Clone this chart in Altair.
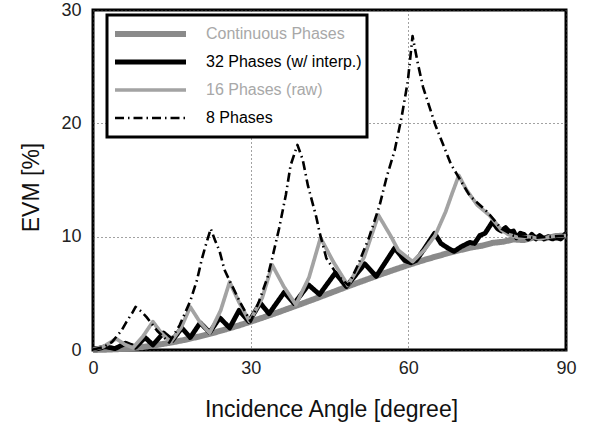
import altair as alt
import pandas as pd

# ---- data ----
series_names = ["Continuous Phases", "32 Phases (w/ interp.)", "16 Phases (raw)", "8 Phases"]

cont_x = [0, 2.5, 5, 7.5, 10, 12.5, 15, 17.5, 20, 22.5, 25, 27.5, 30, 32.5, 35, 37.5, 40, 42.5,
          45, 47.5, 50, 52.5, 55, 57.5, 60, 62.5, 65, 67.5, 70, 72, 74, 76, 78, 80, 82, 84, 86, 88, 90]
cont_y = [0, 0.03, 0.08, 0.17, 0.3, 0.47, 0.67, 0.9, 1.17, 1.46, 1.79, 2.13, 2.5, 2.89, 3.29, 3.71,
          4.13, 4.56, 5.0, 5.44, 5.87, 6.29, 6.71, 7.11, 7.5, 7.87, 8.21, 8.54, 8.83, 9.05, 9.2, 9.45,
          9.55, 9.75, 9.7, 9.95, 9.85, 10.05, 10.1]

p32_x = [0, 1, 2.3, 4.2, 6.2, 8.1, 9.9, 11.4, 13.4, 15.1, 16.9, 18.5, 20.4, 22.2, 24.1, 26.0, 27.8,
         29.7, 31.8, 33.5, 36.4, 38.3, 41.0, 43.1, 46.1, 48.2, 51.7, 53.9, 57.4, 59.3, 60.5, 61.5,
         63, 65.0, 66.2, 67.5, 68.7, 70, 71.7, 72.6, 73.6, 74.6, 76.0, 77.0, 77.7, 78.5, 79.3, 80.0,
         80.6, 81.3, 82.0, 82.8, 83.5, 84.3, 85.0, 85.8, 86.6, 87.4, 88.2, 89.0, 89.6, 90]
p32_y = [0.1, 0.12, 0.3, 0.12, 0.6, 0.25, 1.1, 0.45, 1.5, 0.85, 1.95, 1.1, 2.4, 1.55, 2.85, 1.95, 3.5,
         2.5, 4.15, 3.2, 5.1, 4.1, 5.75, 4.9, 6.8, 5.6, 7.6, 6.5, 9.0, 7.9, 7.7, 7.9,
         8.9, 10.3, 9.4, 9.0, 8.7, 9.1, 9.5, 9.4, 10.1, 10.3, 11.3, 10.7, 10.5, 10.8, 10.4, 10.5,
         9.9, 10.3, 10.2, 9.8, 10.2, 9.8, 10.1, 9.8, 10.0, 9.8, 9.9, 9.8, 10.1, 10.3]

p16_x = [0, 2, 4.4, 6, 7.6, 9.5, 11.4, 13, 14.8, 16.8, 18.5, 20.3, 22.2, 24.3, 26.0, 27.8, 29.8,
         32.2, 34.1, 36.3, 38.6, 41.1, 43.3, 45.7, 48.5, 51.6, 54.3, 56.6, 58.1, 60.8, 63, 65.1,
         67.1, 68.4, 69.6, 71.1, 73.1, 75.4, 77.7, 79, 81, 83, 85, 87, 90]
p16_y = [0.05, 0.3, 1.0, 0.5, 0.2, 1.2, 2.5, 1.5, 0.7, 2.0, 3.8, 2.5, 1.5, 3.5, 6.0, 4.2, 2.5,
         4.6, 7.5, 5.6, 4.0, 6.4, 9.9, 7.8, 5.7, 8.2, 11.9, 10.1, 8.8, 7.8, 8.8, 10.1,
         12.2, 13.9, 15.4, 14.1, 12.8, 11.9, 10.6, 10.2, 9.9, 10.0, 9.8, 10.0, 10.1]

p8_x = [0, 2, 3.6, 5.4, 6.4, 7.5, 8.1, 9.2, 10.2, 12.2, 14.5, 16.5, 18.5, 19.8, 20.7, 21.3, 22.4,
        23.2, 24.1, 25.0, 26.0, 28.0, 30.0, 31.6, 33.2, 34.1, 35.4, 36.7, 37.6, 38.9, 39.9, 40.9,
        42.5, 43.1, 44.4, 46.5, 48.6, 50.5, 52.5, 54.5, 55.9, 57.4, 58.7, 59.9, 60.8, 61.8, 62.8,
        65.1, 68.1, 69.5, 71.7, 75.0, 77.7, 80, 84, 90]
p8_y = [0.05, 0.25, 0.7, 1.7, 2.5, 3.3, 3.8, 3.4, 2.9, 1.7, 0.65, 2.2, 4.3, 6.2, 8.0, 9.0, 10.7,
        9.7, 8.7, 7.1, 6.1, 4.2, 2.5, 4.3, 6.4, 8.1, 10.7, 13.7, 16.3, 18.1, 16.8, 14.5,
        11.7, 10.4, 8.1, 6.6, 5.7, 7.6, 9.9, 12.7, 15.3, 17.6, 20.5, 23.7, 27.7, 25.3, 23.2,
        19.9, 16.4, 15.3, 13.6, 12.2, 10.7, 10.1, 9.9, 10.1]

x_ticks = [0, 30, 60, 90]
y_ticks = [0, 10, 20, 30]

# ---- styling ----
colors = ["#8a8a8a", "#000000", "#a3a3a3", "#000000"]
widths = [6, 2.6, 2.4, 1.8]
dashes = [[1, 0], [1, 0], [1, 0], [9, 4, 1.5, 4]]

frames = []
for name, xs, ys in [(series_names[0], cont_x, cont_y), (series_names[1], p32_x, p32_y),
                     (series_names[2], p16_x, p16_y), (series_names[3], p8_x, p8_y)]:
    frames.append(pd.DataFrame({"angle": xs, "evm": ys, "series": name}))
df = pd.concat(frames, ignore_index=True)

legend = alt.Legend(
    title=None, orient="none", legendX=14, legendY=5,
    symbolType="stroke", symbolSize=5041, clipHeight=28, rowPadding=0,
    padding=5, labelOffset=17, labelFontSize=16, labelFont="Liberation Sans",
    labelLimit=400, fillColor="white", strokeColor="black",
    labelColor={"expr": "(datum.label == 'Continuous Phases' || datum.label == '16 Phases (raw)') ? '#a8a8a8' : '#000000'"},
)

x_enc = alt.X("angle:Q", scale=alt.Scale(domain=[0, 90], nice=False),
              axis=alt.Axis(values=x_ticks, title="Incidence Angle [degree]", format="d",
                            titleX=238, titleY=66, titleBaseline="alphabetic", titleAlign="center",
                            labelPadding=9, labelFlush=False))
y_enc = alt.Y("evm:Q", scale=alt.Scale(domain=[0, 30], nice=False),
              axis=alt.Axis(values=y_ticks, title="EVM [%]", format="d",
                            titleX=-62, titleY=177, titleAngle=270, titleBaseline="middle",
                            titleAlign="center", labelPadding=12, labelFlush=False))
color_enc = alt.Color("series:N", scale=alt.Scale(domain=series_names, range=colors), legend=legend)
width_enc = alt.StrokeWidth("series:N", scale=alt.Scale(domain=series_names, range=widths), legend=legend)
dash_enc = alt.StrokeDash("series:N", scale=alt.Scale(domain=series_names, range=dashes), legend=legend)

layers = []
for name in series_names:
    layers.append(
        alt.Chart(df).transform_filter(alt.datum.series == name)
        .mark_line(strokeJoin="round", strokeCap="butt")
        .encode(x=x_enc, y=y_enc, color=color_enc, strokeWidth=width_enc, strokeDash=dash_enc,
                order="angle:Q")
    )

chart = alt.layer(*layers).properties(
    width=473, height=340,
    autosize=alt.AutoSizeParams(type="none"),
    padding={"left": 93, "top": 10, "right": 24, "bottom": 72},
).configure_view(
    stroke="black", strokeWidth=3
).configure_axis(
    grid=True, gridColor="#444444", gridDash=[1, 3], gridWidth=1,
    domain=False, ticks=False,
    labelFont="Liberation Sans", labelFontSize=18, labelColor="#222222",
    titleFont="Liberation Sans", titleFontSize=23, titleColor="#111111", titleFontWeight="normal",
).configure_legend(
    strokeWidth=3
)

chart.save("out.html", embed_options={"renderer": "svg", "actions": False})
